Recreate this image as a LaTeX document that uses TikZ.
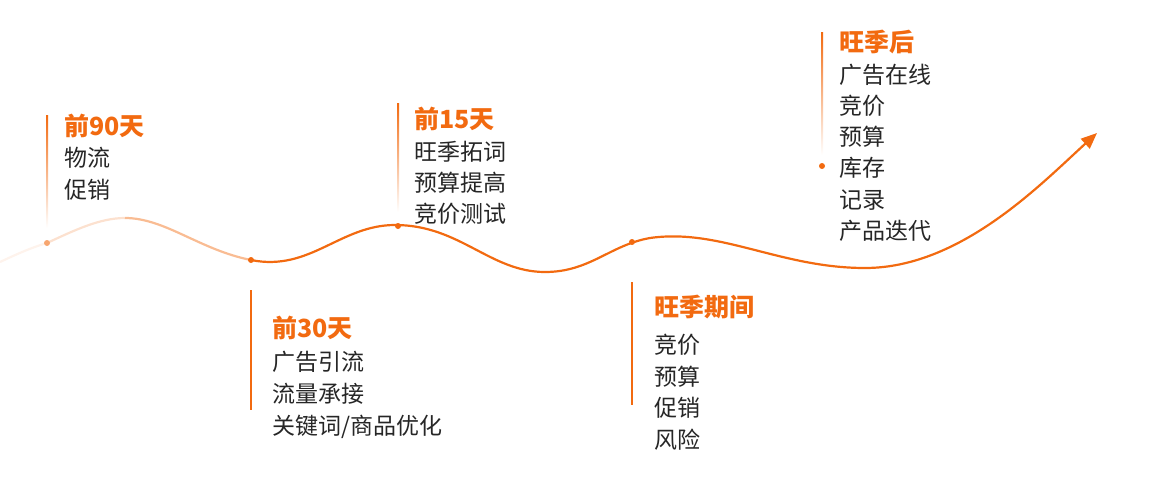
\documentclass[tikz,border=0pt]{standalone}
\usepackage{fontspec}
\setmainfont{Noto Sans CJK SC}
\usetikzlibrary{arrows.meta}
\definecolor{org}{HTML}{F26A10}
\tikzset{ttl/.style={anchor=west,text=org,font=\fontsize{25}{28}\selectfont\bfseries,inner sep=0pt},
 bod/.style={anchor=west,text=black!85,font=\fontsize{23}{26}\selectfont,inner sep=0pt},
 dot/.style={circle,fill=org,inner sep=0pt,minimum size=6pt},
 vline/.style={line width=1.5pt}}
\begin{document}
\begin{tikzpicture}[x=1pt,y=-1pt]
\useasboundingbox (0,0) rectangle (1156,479);
% faded start of curve
\draw[line width=2.2pt,org!8] (0,262) .. controls (15,255) and (30,248) .. (47,243);
\draw[line width=2.2pt,org!20] (47,243) .. controls (75,230) and (100,218) .. (125,218);
\draw[line width=2.2pt,org!45] (125,218) .. controls (165,218) and (200,250) .. (251,260);
\draw[line width=2.2pt,org,-{Triangle[length=16pt,width=13pt]}] (251,260)
  .. controls (310,272) and (340,225) .. (395,225)
  .. controls (460,225) and (490,272) .. (545,272)
  .. controls (590,272) and (610,245) .. (650,238)
  .. controls (720,228) and (780,268) .. (865,268)
  .. controls (960,268) and (1040,185) .. (1097,133);
\node[dot,fill=org!60] (d1) at (47,243) {};
\node[dot] (d2) at (251,260) {};
\node[dot] (d3) at (398,226) {};
\node[dot] (d4) at (632,242) {};
\node[dot] (d5) at (822,166) {};
% vertical lines
\shade[top color=org,bottom color=white] (46,115) rectangle (48,228);
\coordinate (a1) at (251,290); \coordinate (b1) at (251,410);
\draw[vline,org] (a1) -- (b1);
\shade[top color=org,bottom color=white] (397,103) rectangle (399,212);
\coordinate (a2) at (632,282); \coordinate (b2) at (632,405);
\draw[vline,org] (a2) -- (b2);
\shade[top color=org,bottom color=white] (821,32) rectangle (823,155);
% texts
\node[ttl] (t1) at (64,126) {前90天};
\node[bod] (t1a) at (64,158) {物流};
\node[bod] (t1b) at (64,190) {促销};
\node[ttl] (t2) at (272,328) {前30天};
\node[bod] (t2a) at (272,362) {广告引流};
\node[bod] (t2b) at (272,394) {流量承接};
\node[bod] (t2c) at (272,427) {关键词/商品优化};
\node[ttl] (t3) at (414,119) {前15天};
\node[bod] (t3a) at (414,152) {旺季拓词};
\node[bod] (t3b) at (414,183) {预算提高};
\node[bod] (t3c) at (414,214) {竞价测试};
\node[ttl] (t4) at (654,307) {旺季期间};
\node[bod] (t4a) at (654,345) {竞价};
\node[bod] (t4b) at (654,377) {预算};
\node[bod] (t4c) at (654,408) {促销};
\node[bod] (t4d) at (654,440) {风险};
\node[ttl] (t5) at (839,42) {旺季后};
\node[bod] (t5a) at (839,75) {广告在线};
\node[bod] (t5b) at (839,106) {竞价};
\node[bod] (t5c) at (839,137) {预算};
\node[bod] (t5d) at (839,168) {库存};
\node[bod] (t5e) at (839,200) {记录};
\node[bod] (t5f) at (839,231) {产品迭代};
\end{tikzpicture}
\end{document}
